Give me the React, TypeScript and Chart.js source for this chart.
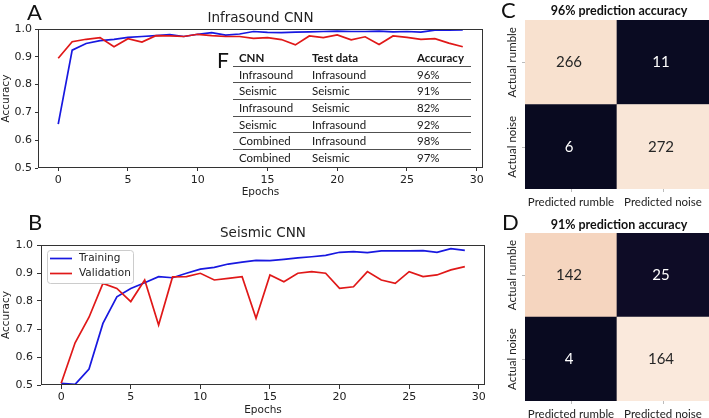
import React, { useEffect, useRef } from 'react';
import { Chart, registerables } from 'chart.js';

Chart.register(...registerables);

// ---- training curves ----
const EPOCHS = [0, 1, 2, 3, 4, 5, 6, 7, 8, 9, 10, 11, 12, 13, 14, 15, 16, 17, 18, 19, 20, 21, 22, 23, 24, 25, 26, 27, 28, 29];
const EPOCH_TICKS = [0, 5, 10, 15, 20, 25, 30];
const ACC_TICKS = [0.5, 0.6, 0.7, 0.8, 0.9, 1.0];
const SERIES_NAMES = ['Training', 'Validation'];

const INFRA_TRAIN = [0.658, 0.924, 0.948, 0.958, 0.963, 0.970, 0.973, 0.976, 0.980, 0.973, 0.981, 0.987, 0.978, 0.982, 0.991, 0.988, 0.987, 0.989, 0.990, 0.991, 0.992, 0.991, 0.991, 0.992, 0.990, 0.991, 0.989, 0.996, 0.996, 0.997];
const INFRA_VAL = [0.895, 0.954, 0.963, 0.969, 0.936, 0.965, 0.953, 0.976, 0.975, 0.973, 0.981, 0.976, 0.973, 0.973, 0.966, 0.969, 0.962, 0.943, 0.975, 0.969, 0.979, 0.961, 0.972, 0.944, 0.975, 0.970, 0.963, 0.965, 0.949, 0.936];
const SEIS_TRAIN = [0.506, 0.502, 0.557, 0.720, 0.815, 0.845, 0.865, 0.887, 0.883, 0.899, 0.914, 0.920, 0.932, 0.939, 0.945, 0.944, 0.949, 0.954, 0.958, 0.963, 0.974, 0.976, 0.973, 0.979, 0.979, 0.979, 0.980, 0.974, 0.987, 0.981];
const SEIS_VAL = [0.506, 0.651, 0.742, 0.863, 0.845, 0.798, 0.875, 0.714, 0.886, 0.887, 0.899, 0.875, 0.881, 0.887, 0.738, 0.893, 0.869, 0.899, 0.905, 0.899, 0.845, 0.851, 0.905, 0.875, 0.863, 0.905, 0.887, 0.893, 0.911, 0.923];

// ---- confusion matrices (rows: actual, columns: predicted) ----
const PRED_LABELS = ['Predicted rumble', 'Predicted noise'];
const ACTUAL_LABELS = ['Actual rumble', 'Actual noise'];
const INFRA_CM = [[266, 11], [6, 272]];
const SEIS_CM = [[142, 25], [4, 164]];
const INFRA_CM_TITLE = '96% prediction accuracy';
const SEIS_CM_TITLE = '91% prediction accuracy';

// ---- summary table ----
const TABLE_HEAD = ['CNN', 'Test data', 'Accuracy'];
const TABLE_CNN = ['Infrasound', 'Seismic', 'Infrasound', 'Seismic', 'Combined', 'Combined'];
const TABLE_TEST = ['Infrasound', 'Seismic', 'Seismic', 'Infrasound', 'Infrasound', 'Seismic'];
const TABLE_ACC = ['96%', '91%', '82%', '92%', '98%', '97%'];

// ---- styles ----
const TRAIN_COLOR = '#1818e0';
const VAL_COLOR = '#e01818';
const AXIS_COLOR = '#333333';
const TEXT_COLOR = '#222222';
const MPL_FONT = '"DejaVu Sans", sans-serif';
const SANS_FONT = 'Lato, "Open Sans", sans-serif';
const INFRA_FILLS = [['#f8e1cf', '#0a0b22'], ['#090a20', '#f9e6d7']];
const SEIS_FILLS = [['#f5d5bf', '#0e0c26'], ['#090a20', '#fae9dc']];

type Area = { l: number; r: number; t: number; b: number };

type LineSpec = {
  width: number;
  height: number;
  area: Area;
  title: string;
  titleY: number;
  train: number[];
  val: number[];
  legend: boolean;
  yTickLen: number;
  yTickPad: number;
  xTickLen: number;
  xTickPad: number;
  xTitlePad: number;
};

function lineChartConfig(p: LineSpec): any {
  const points = (vals: number[]) => EPOCHS.map((e, i) => ({ x: e, y: vals[i] }));
  const tickFont = { family: MPL_FONT, size: 11 };
  const labelFont = { family: MPL_FONT, size: 10.5 };

  const decorations = {
    id: 'decorations',
    afterDatasetsDraw(chart: any) {
      const { ctx, chartArea: a } = chart;
      ctx.save();
      // axes frame on all four sides
      ctx.strokeStyle = AXIS_COLOR;
      ctx.lineWidth = 1;
      ctx.strokeRect(Math.round(a.left) + 0.5, Math.round(a.top) + 0.5, Math.round(a.right - a.left) - 1, Math.round(a.bottom - a.top) - 1);
      // title
      ctx.fillStyle = TEXT_COLOR;
      ctx.font = `13.5px ${MPL_FONT}`;
      ctx.textAlign = 'center';
      ctx.textBaseline = 'middle';
      ctx.fillText(p.title, (a.left + a.right) / 2, p.titleY);
      // legend in the upper-left corner
      if (p.legend) {
        const bx = a.left + 6;
        const by = a.top + 5;
        const bw = 86;
        const bh = 33;
        ctx.beginPath();
        ctx.roundRect(bx + 0.5, by + 0.5, bw, bh, 3);
        ctx.fillStyle = 'rgba(255,255,255,0.85)';
        ctx.fill();
        ctx.strokeStyle = '#cccccc';
        ctx.lineWidth = 1;
        ctx.stroke();
        chart.data.datasets.forEach((ds: any, i: number) => {
          const y = by + 8.5 + i * 15;
          ctx.beginPath();
          ctx.strokeStyle = ds.borderColor;
          ctx.lineWidth = 1.7;
          ctx.moveTo(bx + 3, y);
          ctx.lineTo(bx + 25, y);
          ctx.stroke();
          ctx.fillStyle = TEXT_COLOR;
          ctx.font = `10.5px ${MPL_FONT}`;
          ctx.textAlign = 'left';
          ctx.textBaseline = 'middle';
          ctx.fillText(ds.label, bx + 32, y);
        });
      }
      ctx.restore();
    },
  };

  return {
    type: 'line',
    data: {
      datasets: [
        { label: SERIES_NAMES[0], data: points(p.train), borderColor: TRAIN_COLOR, borderWidth: 1.7, pointRadius: 0, tension: 0, fill: false, order: 1 },
        { label: SERIES_NAMES[1], data: points(p.val), borderColor: VAL_COLOR, borderWidth: 1.7, pointRadius: 0, tension: 0, fill: false, order: 0 },
      ],
    },
    options: {
      responsive: false,
      animation: false,
      events: [],
      layout: { padding: { left: 0, top: p.area.t, right: p.width - p.area.r, bottom: 0 } },
      plugins: { legend: { display: false }, tooltip: { enabled: false }, title: { display: false } },
      scales: {
        x: {
          type: 'linear',
          min: -1.45,
          max: 30.45,
          afterBuildTicks: (s: any) => { s.ticks = EPOCH_TICKS.map((v) => ({ value: v })); },
          afterFit: (s: any) => { s.height = p.height - p.area.b; },
          ticks: { font: tickFont, color: TEXT_COLOR, padding: p.xTickPad, maxRotation: 0, autoSkip: false, callback: (v: any) => String(v) },
          grid: { drawOnChartArea: false, drawTicks: true, tickLength: p.xTickLen, color: AXIS_COLOR },
          border: { display: false },
          title: { display: true, text: 'Epochs', font: labelFont, color: TEXT_COLOR, padding: { top: 0, bottom: p.xTitlePad } },
        },
        y: {
          min: 0.5,
          max: 1.0,
          afterBuildTicks: (s: any) => { s.ticks = ACC_TICKS.map((v) => ({ value: v })); },
          afterFit: (s: any) => { s.width = p.area.l; },
          ticks: { font: tickFont, color: TEXT_COLOR, padding: p.yTickPad, autoSkip: false, callback: (v: any) => Number(v).toFixed(1) },
          grid: { drawOnChartArea: false, drawTicks: true, tickLength: p.yTickLen, color: AXIS_COLOR },
          border: { display: false },
          title: { display: true, text: 'Accuracy', font: labelFont, color: TEXT_COLOR, padding: { top: 0, bottom: 0 } },
        },
      },
    },
    plugins: [decorations],
  };
}

type MatrixSpec = {
  width: number;
  height: number;
  area: Area;
  title: string;
  titleY: number;
  counts: number[][];
  fills: string[][];
};

function matrixChartConfig(p: MatrixSpec): any {
  const all = p.counts.flat();
  const mid = (Math.max(...all) + Math.min(...all)) / 2;
  // bottom row first: stacked bars fill from the bottom up
  const rowOrder = [1, 0];

  const cellText = {
    id: 'cellText',
    afterDatasetsDraw(chart: any) {
      const { ctx, chartArea: a } = chart;
      ctx.save();
      chart.data.datasets.forEach((ds: any, di: number) => {
        const row = ds.row as number;
        const meta = chart.getDatasetMeta(di);
        meta.data.forEach((bar: any, col: number) => {
          const { x, y, base } = bar.getProps(['x', 'y', 'base'], true);
          const cy = (y + base) / 2;
          const v = p.counts[row][col];
          ctx.fillStyle = v >= mid ? '#262626' : '#ffffff';
          ctx.font = `15px ${SANS_FONT}`;
          ctx.textAlign = 'center';
          ctx.textBaseline = 'middle';
          ctx.fillText(String(v), x - 2, cy);
          if (col === 0) {
            // row label, rotated, plus a small tick mark
            ctx.strokeStyle = '#bbbbbb';
            ctx.lineWidth = 1;
            ctx.beginPath();
            ctx.moveTo(a.left - 3, Math.round(cy) + 0.5);
            ctx.lineTo(a.left, Math.round(cy) + 0.5);
            ctx.stroke();
            ctx.save();
            ctx.translate(a.left - 13, cy);
            ctx.rotate(-Math.PI / 2);
            ctx.fillStyle = TEXT_COLOR;
            ctx.font = `11.5px ${SANS_FONT}`;
            ctx.fillText(ACTUAL_LABELS[row], 0, 0);
            ctx.restore();
          }
        });
      });
      ctx.fillStyle = '#111111';
      ctx.font = `bold 12.5px ${SANS_FONT}`;
      ctx.textAlign = 'center';
      ctx.textBaseline = 'middle';
      ctx.fillText(p.title, (a.left + a.right) / 2 + 2, p.titleY);
      ctx.restore();
    },
  };

  return {
    type: 'bar',
    data: {
      labels: PRED_LABELS,
      datasets: rowOrder.map((row) => ({
        label: ACTUAL_LABELS[row],
        row,
        data: p.counts[row].map(() => 1),
        backgroundColor: p.fills[row],
        borderWidth: 0,
        barPercentage: 1,
        categoryPercentage: 1,
        stack: 'cells',
      })),
    },
    options: {
      responsive: false,
      animation: false,
      events: [],
      layout: { padding: { left: p.area.l, top: p.area.t, right: p.width - p.area.r, bottom: 0 } },
      plugins: { legend: { display: false }, tooltip: { enabled: false }, title: { display: false } },
      scales: {
        x: {
          stacked: true,
          afterFit: (s: any) => { s.height = p.height - p.area.b; },
          ticks: { font: { family: SANS_FONT, size: 11.5 }, color: TEXT_COLOR, padding: 3, maxRotation: 0, autoSkip: false },
          grid: { offset: false, drawOnChartArea: false, drawTicks: true, tickLength: 3, color: '#bbbbbb' },
          border: { display: false },
        },
        y: { stacked: true, display: false, min: 0, max: 2 },
      },
    },
    plugins: [cellText],
  };
}

function ChartCanvas(props: { left: number; top: number; width: number; height: number; make: () => any }) {
  const ref = useRef<HTMLCanvasElement>(null);
  useEffect(() => {
    const chart = new Chart(ref.current as HTMLCanvasElement, props.make());
    return () => chart.destroy();
  }, []);
  return (
    <canvas
      ref={ref}
      width={props.width}
      height={props.height}
      style={{ position: 'absolute', left: props.left, top: props.top, width: props.width, height: props.height }}
    />
  );
}

function PanelLetter(props: { text: string; left: number; top: number; size?: number }) {
  const size = props.size ?? 21;
  return (
    <div style={{ position: 'absolute', left: props.left, top: props.top, fontSize: size, lineHeight: `${size}px`, fontFamily: SANS_FONT, color: '#111' }}>
      {props.text}
    </div>
  );
}

function ResultsTable() {
  const rowH = 16.67;
  const colX = [6, 79, 184];
  const rows = [TABLE_HEAD, ...TABLE_CNN.map((c, i) => [c, TABLE_TEST[i], TABLE_ACC[i]])];
  return (
    <div style={{ position: 'absolute', left: 233, top: 50, width: 238, height: rowH * rows.length, fontFamily: SANS_FONT, fontSize: 11.5, color: '#161616' }}>
      {rows.map((r, i) => (
        <div
          key={i}
          style={{
            position: 'absolute',
            left: 0,
            top: i * rowH,
            width: 238,
            height: rowH,
            boxSizing: 'border-box',
            borderBottom: i < rows.length - 1 ? '1.4px solid #505050' : 'none',
            fontWeight: i === 0 ? 700 : 400,
          }}
        >
          {r.map((cell, j) => (
            <span key={j} style={{ position: 'absolute', left: colX[j], top: 0, lineHeight: `${rowH}px`, whiteSpace: 'nowrap' }}>
              {cell}
            </span>
          ))}
        </div>
      ))}
    </div>
  );
}

export default function App() {
  return (
    <div style={{ position: 'absolute', left: 0, top: 0, width: 709, height: 418, background: '#ffffff', overflow: 'hidden' }}>
      <ChartCanvas
        left={0}
        top={0}
        width={495}
        height={200}
        make={() =>
          lineChartConfig({
            width: 495, height: 200, area: { l: 38, r: 483, t: 29, b: 168 },
            title: 'Infrasound CNN', titleY: 18, train: INFRA_TRAIN, val: INFRA_VAL, legend: false,
            yTickLen: 3, yTickPad: 3, xTickLen: 3, xTickPad: 3, xTitlePad: 1,
          })
        }
      />
      <ChartCanvas
        left={0}
        top={200}
        width={495}
        height={218}
        make={() =>
          lineChartConfig({
            width: 495, height: 218, area: { l: 41, r: 485, t: 45, b: 185 },
            title: 'Seismic CNN', titleY: 33, train: SEIS_TRAIN, val: SEIS_VAL, legend: true,
            yTickLen: 4, yTickPad: 4, xTickLen: 4, xTickPad: 2, xTitlePad: 1,
          })
        }
      />
      <ChartCanvas
        left={500}
        top={0}
        width={209}
        height={210}
        make={() =>
          matrixChartConfig({
            width: 209, height: 210, area: { l: 25, r: 209, t: 20, b: 189 },
            title: INFRA_CM_TITLE, titleY: 11, counts: INFRA_CM, fills: INFRA_FILLS,
          })
        }
      />
      <ChartCanvas
        left={500}
        top={200}
        width={209}
        height={218}
        make={() =>
          matrixChartConfig({
            width: 209, height: 218, area: { l: 25, r: 209, t: 33, b: 201 },
            title: SEIS_CM_TITLE, titleY: 25, counts: SEIS_CM, fills: SEIS_FILLS,
          })
        }
      />
      <ResultsTable />
      <PanelLetter text="A" left={27} top={1} size={22} />
      <PanelLetter text="B" left={28} top={211} size={22} />
      <PanelLetter text="C" left={501} top={-1} size={22} />
      <PanelLetter text="D" left={502} top={211} size={22} />
      <PanelLetter text="F" left={217} top={49} size={21} />
    </div>
  );
}
